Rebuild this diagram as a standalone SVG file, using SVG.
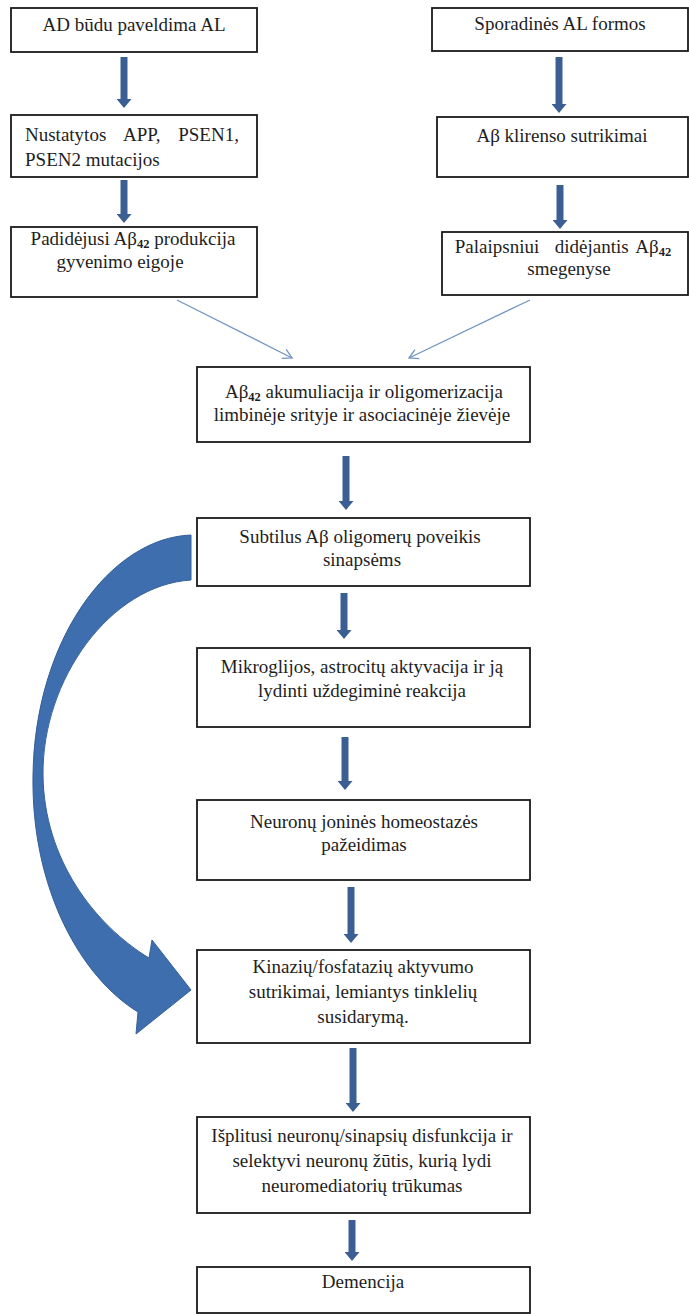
<svg xmlns="http://www.w3.org/2000/svg" width="689" height="1314" viewBox="0 0 689 1314">
<style>
.box{fill:#fff;stroke:#1a1a1a;stroke-width:1.8}
.t{font-family:"Liberation Serif","Times New Roman",serif;font-size:19px;fill:#1e1e1e}
.c{text-anchor:middle}
.thick{stroke:#3b5f93;stroke-width:7;fill:none}
.thin{stroke:#7394c4;stroke-width:1.3;fill:none}
.sub{font-size:12.5px;font-weight:bold}
</style>
<defs>
<marker id="hd" markerUnits="userSpaceOnUse" markerWidth="9" markerHeight="15" refX="0" refY="7.5" orient="auto">
<path d="M0,0 L9,7.5 L0,15 z" fill="#3b5f93"/>
</marker>
<marker id="op" markerUnits="userSpaceOnUse" markerWidth="12" markerHeight="12" refX="10" refY="6" orient="auto">
<path d="M1,1 L10,6 L1,11" fill="none" stroke="#7394c4" stroke-width="1.3"/>
</marker>
</defs>
<rect width="689" height="1314" fill="#fff"/>

<g id="connectors">
<line class="thick" x1="124" y1="57" x2="124" y2="99" marker-end="url(#hd)"/>
<line class="thick" x1="124" y1="180" x2="124" y2="214" marker-end="url(#hd)"/>
<line class="thick" x1="559" y1="57" x2="559" y2="104" marker-end="url(#hd)"/>
<line class="thick" x1="560" y1="185" x2="560" y2="220" marker-end="url(#hd)"/>
<line class="thin" x1="177" y1="300" x2="292" y2="358" marker-end="url(#op)"/>
<line class="thin" x1="530" y1="300" x2="409" y2="358" marker-end="url(#op)"/>
<line class="thick" x1="346" y1="456" x2="346" y2="501" marker-end="url(#hd)"/>
<line class="thick" x1="344" y1="593" x2="344" y2="630" marker-end="url(#hd)"/>
<line class="thick" x1="345" y1="737" x2="345" y2="781" marker-end="url(#hd)"/>
<line class="thick" x1="351" y1="887" x2="351" y2="934" marker-end="url(#hd)"/>
<line class="thick" x1="353" y1="1048" x2="353" y2="1103" marker-end="url(#hd)"/>
<line class="thick" x1="352" y1="1220" x2="352" y2="1252" marker-end="url(#hd)"/>
<path id="curved-arrow" d="M191,535 C110,538 35,640 33,775 C31,890 82,978 138,1012 L136,1034 L191,990 L152,940 L149,958 C95,925 44,860 43,775 C42,680 110,585 191,580 Z" fill="#3e6eae" stroke="#35609a" stroke-width="1"/>
</g>

<g id="n1"><rect class="box" x="11" y="8" width="246" height="44"/>
<text class="t c" x="134" y="31">AD būdu paveldima AL</text></g>

<g id="n2"><rect class="box" x="11" y="115" width="246" height="62"/>
<text class="t" x="25" y="141" word-spacing="13">Nustatytos APP, PSEN1,</text>
<text class="t" x="25" y="166">PSEN2 mutacijos</text></g>

<g id="n3"><rect class="box" x="11" y="227" width="246" height="70"/>
<text class="t c" x="133" y="245">Padidėjusi Aβ<tspan class="sub" dy="3">42</tspan><tspan dy="-3"> produkcija</tspan></text>
<text class="t c" x="120" y="268">gyvenimo eigoje</text></g>

<g id="n4"><rect class="box" x="432" y="8" width="256" height="43"/>
<text class="t c" x="560" y="30">Sporadinės AL formos</text></g>

<g id="n5"><rect class="box" x="437" y="117" width="251" height="60"/>
<text class="t c" x="562" y="142">Aβ klirenso sutrikimai</text></g>

<g id="n6"><rect class="box" x="442" y="232" width="246" height="63"/>
<text class="t c" x="563" y="253" xml:space="preserve" word-spacing="3">Palaipsniui  didėjantis Aβ<tspan class="sub" dy="3">42</tspan></text>
<text class="t c" x="569" y="275">smegenyse</text></g>

<g id="n7"><rect class="box" x="197" y="367" width="333" height="75"/>
<text class="t c" x="364" y="398">Aβ<tspan class="sub" dy="3">42</tspan><tspan dy="-3"> akumuliacija ir oligomerizacija</tspan></text>
<text class="t c" x="362" y="421">limbinėje srityje ir asociacinėje žievėje</text></g>

<g id="n8"><rect class="box" x="197" y="518" width="333" height="68"/>
<text class="t c" x="360" y="543">Subtilus Aβ oligomerų poveikis</text>
<text class="t c" x="362" y="566">sinapsėms</text></g>

<g id="n9"><rect class="box" x="197" y="648" width="333" height="79"/>
<text class="t c" x="362" y="673">Mikroglijos, astrocitų aktyvacija ir ją</text>
<text class="t c" x="362" y="697">lydinti uždegiminė reakcija</text></g>

<g id="n10"><rect class="box" x="197" y="800" width="333" height="80"/>
<text class="t c" x="364" y="828">Neuronų joninės homeostazės</text>
<text class="t c" x="364" y="851">pažeidimas</text></g>

<g id="n11"><rect class="box" x="197" y="950" width="333" height="93"/>
<text class="t c" x="363" y="973">Kinazių/fosfatazių aktyvumo</text>
<text class="t c" x="363" y="998">sutrikimai, lemiantys tinklelių</text>
<text class="t c" x="363" y="1023">susidarymą.</text></g>

<g id="n12"><rect class="box" x="197" y="1117" width="333" height="96"/>
<text class="t c" x="362" y="1142">Išplitusi neuronų/sinapsių disfunkcija ir</text>
<text class="t c" x="362" y="1167">selektyvi neuronų žūtis, kurią lydi</text>
<text class="t c" x="362" y="1192">neuromediatorių trūkumas</text></g>

<g id="n13"><rect class="box" x="197" y="1267" width="333" height="46"/>
<text class="t c" x="363" y="1288">Demencija</text></g>
</svg>
